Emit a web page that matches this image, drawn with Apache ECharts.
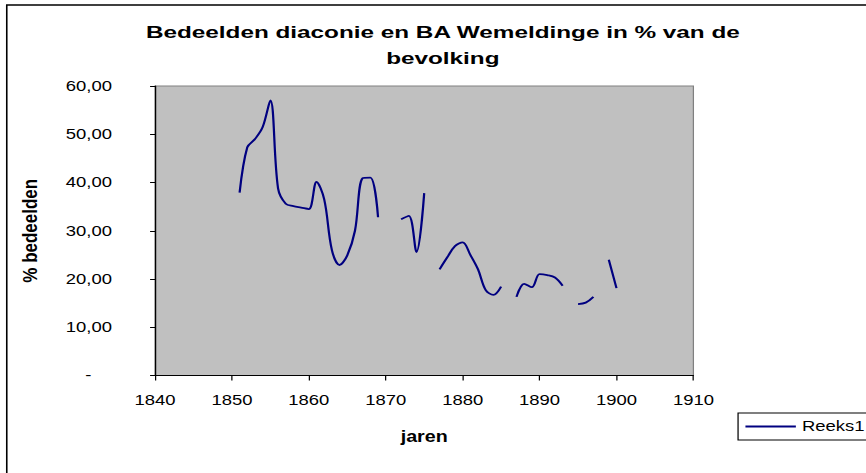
<!DOCTYPE html>
<html>
<head>
<meta charset="utf-8">
<script src="https://cdn.jsdelivr.net/npm/echarts@6/dist/echarts.min.js"></script>
<style>
  html, body { margin: 0; padding: 0; background: #fff; overflow: hidden; }
  /* the original Excel picture is stretched sideways, so the chart is too */
  #chart { width: 704px; height: 473px; transform: scaleX(1.2301); transform-origin: 0 0; }
</style>
</head>
<body>
<div id="chart"></div>
<script>
// jaren en % bedeelden (null = geen gegevens)
const jaren = [1851, 1852, 1853, 1854, 1855, 1856, 1857, 1858, 1859, 1860,
               1861, 1862, 1863, 1864, 1865, 1866, 1867, 1868, 1869, 1870,
               1871, 1872, 1873, 1874, 1875, 1876, 1877, 1878, 1879, 1880,
               1881, 1882, 1883, 1884, 1885, 1886, 1887, 1888, 1889, 1890,
               1891, 1892, 1893, 1894, 1895, 1896, 1897, 1898, 1899, 1900];
const bedeelden = [37.9, 47.3, 49.0, 51.5, 57.0, 38.8, 35.6, 35.1, 34.8, 34.5,
                   40.1, 36.5, 26.0, 22.9, 24.9, 30.0, 40.9, 41.0, 32.8, null,
                   null, 32.4, 33.1, 25.6, 37.8, null, 22.0, 24.5, 26.8, 27.6,
                   25.0, 22.0, 17.7, 16.7, 18.4, null, 16.3, 19.0, 18.3, 21.0,
                   20.8, 20.3, 18.6, null, 14.8, 15.1, 16.3, null, 24.0, 18.1];
const xTicks = { min: 1840, max: 1910, step: 10 };
const yTicks = { min: 0, max: 60, step: 10 };
const titel = 'Bedeelden diaconie en BA Wemeldinge in % van de\nbevolking';

const font = '"Liberation Sans", Arial, sans-serif';
const myChart = echarts.init(document.getElementById('chart'), null, { renderer: 'svg' });

myChart.setOption({
  backgroundColor: '#fff',
  animation: false,
  legend: {
    data: ['Reeks1'],
    left: 600,
    top: 413,
    padding: [6, 80, 6, 6],
    borderColor: '#000',
    borderWidth: 1,
    icon: 'rect',
    itemWidth: 41,
    itemHeight: 2,
    textStyle: { fontFamily: font, fontSize: 15, color: '#000' }
  },
  grid: {
    left: 126, right: 140.3, top: 86, bottom: 97.5,
    show: true,
    backgroundColor: '#c0c0c0',
    borderColor: '#808080',
    borderWidth: 1
  },
  xAxis: {
    type: 'value',
    min: xTicks.min, max: xTicks.max, interval: xTicks.step,
    name: 'jaren',
    nameLocation: 'middle',
    nameGap: 53,
    nameTextStyle: { fontFamily: font, fontSize: 16, fontWeight: 'bold', color: '#000' },
    axisLine: { lineStyle: { color: '#000', width: 1 } },
    axisTick: { length: 5, lineStyle: { color: '#000' } },
    axisLabel: {
      margin: 17, fontFamily: font, fontSize: 15, color: '#000',
      showMinLabel: true, showMaxLabel: true,
      formatter: function (v) { return String(v); }
    },
    splitLine: { show: false }
  },
  yAxis: {
    type: 'value',
    min: yTicks.min, max: yTicks.max, interval: yTicks.step,
    name: '% bedeelden',
    nameLocation: 'middle',
    nameGap: 93,
    nameTextStyle: { fontFamily: font, fontSize: 17, fontWeight: 'bold', color: '#000' },
    axisLine: { show: true, lineStyle: { color: '#000', width: 1 } },
    axisTick: { show: true, length: 4, lineStyle: { color: '#000' } },
    axisLabel: {
      margin: 35,
      fontFamily: font, fontSize: 15, color: '#000',
      formatter: function (v) {
        return v === 0 ? '-\u00a0\u00a0\u00a0\u00a0' : v.toFixed(2).replace('.', ',');
      }
    },
    splitLine: { show: false }
  },
  graphic: [{
    type: 'rect',
    silent: true,
    shape: { x: 5.5, y: 5, width: 900, height: 600 },
    style: { fill: 'none', stroke: '#000', lineWidth: 1.3 }
  }, {
    // titel, in het origineel nog breder uitgerekt
    type: 'text',
    silent: true,
    x: 360,
    y: 19,
    scaleX: 1.235,
    style: {
      text: titel,
      fontFamily: font,
      fontSize: 16,
      fontWeight: 'bold',
      fill: '#000',
      align: 'center',
      verticalAlign: 'top',
      textAlign: 'center',
      textVerticalAlign: 'top',
      lineHeight: 26
    }
  }],
  series: [{
    name: 'Reeks1',
    type: 'line',
    data: jaren.map((j, i) => [j, bedeelden[i]]),
    smooth: 0.35,
    symbol: 'none',
    connectNulls: false,
    lineStyle: { color: '#000080', width: 1.8 },
    itemStyle: { color: '#000080' }
  }]
});
</script>
</body>
</html>
